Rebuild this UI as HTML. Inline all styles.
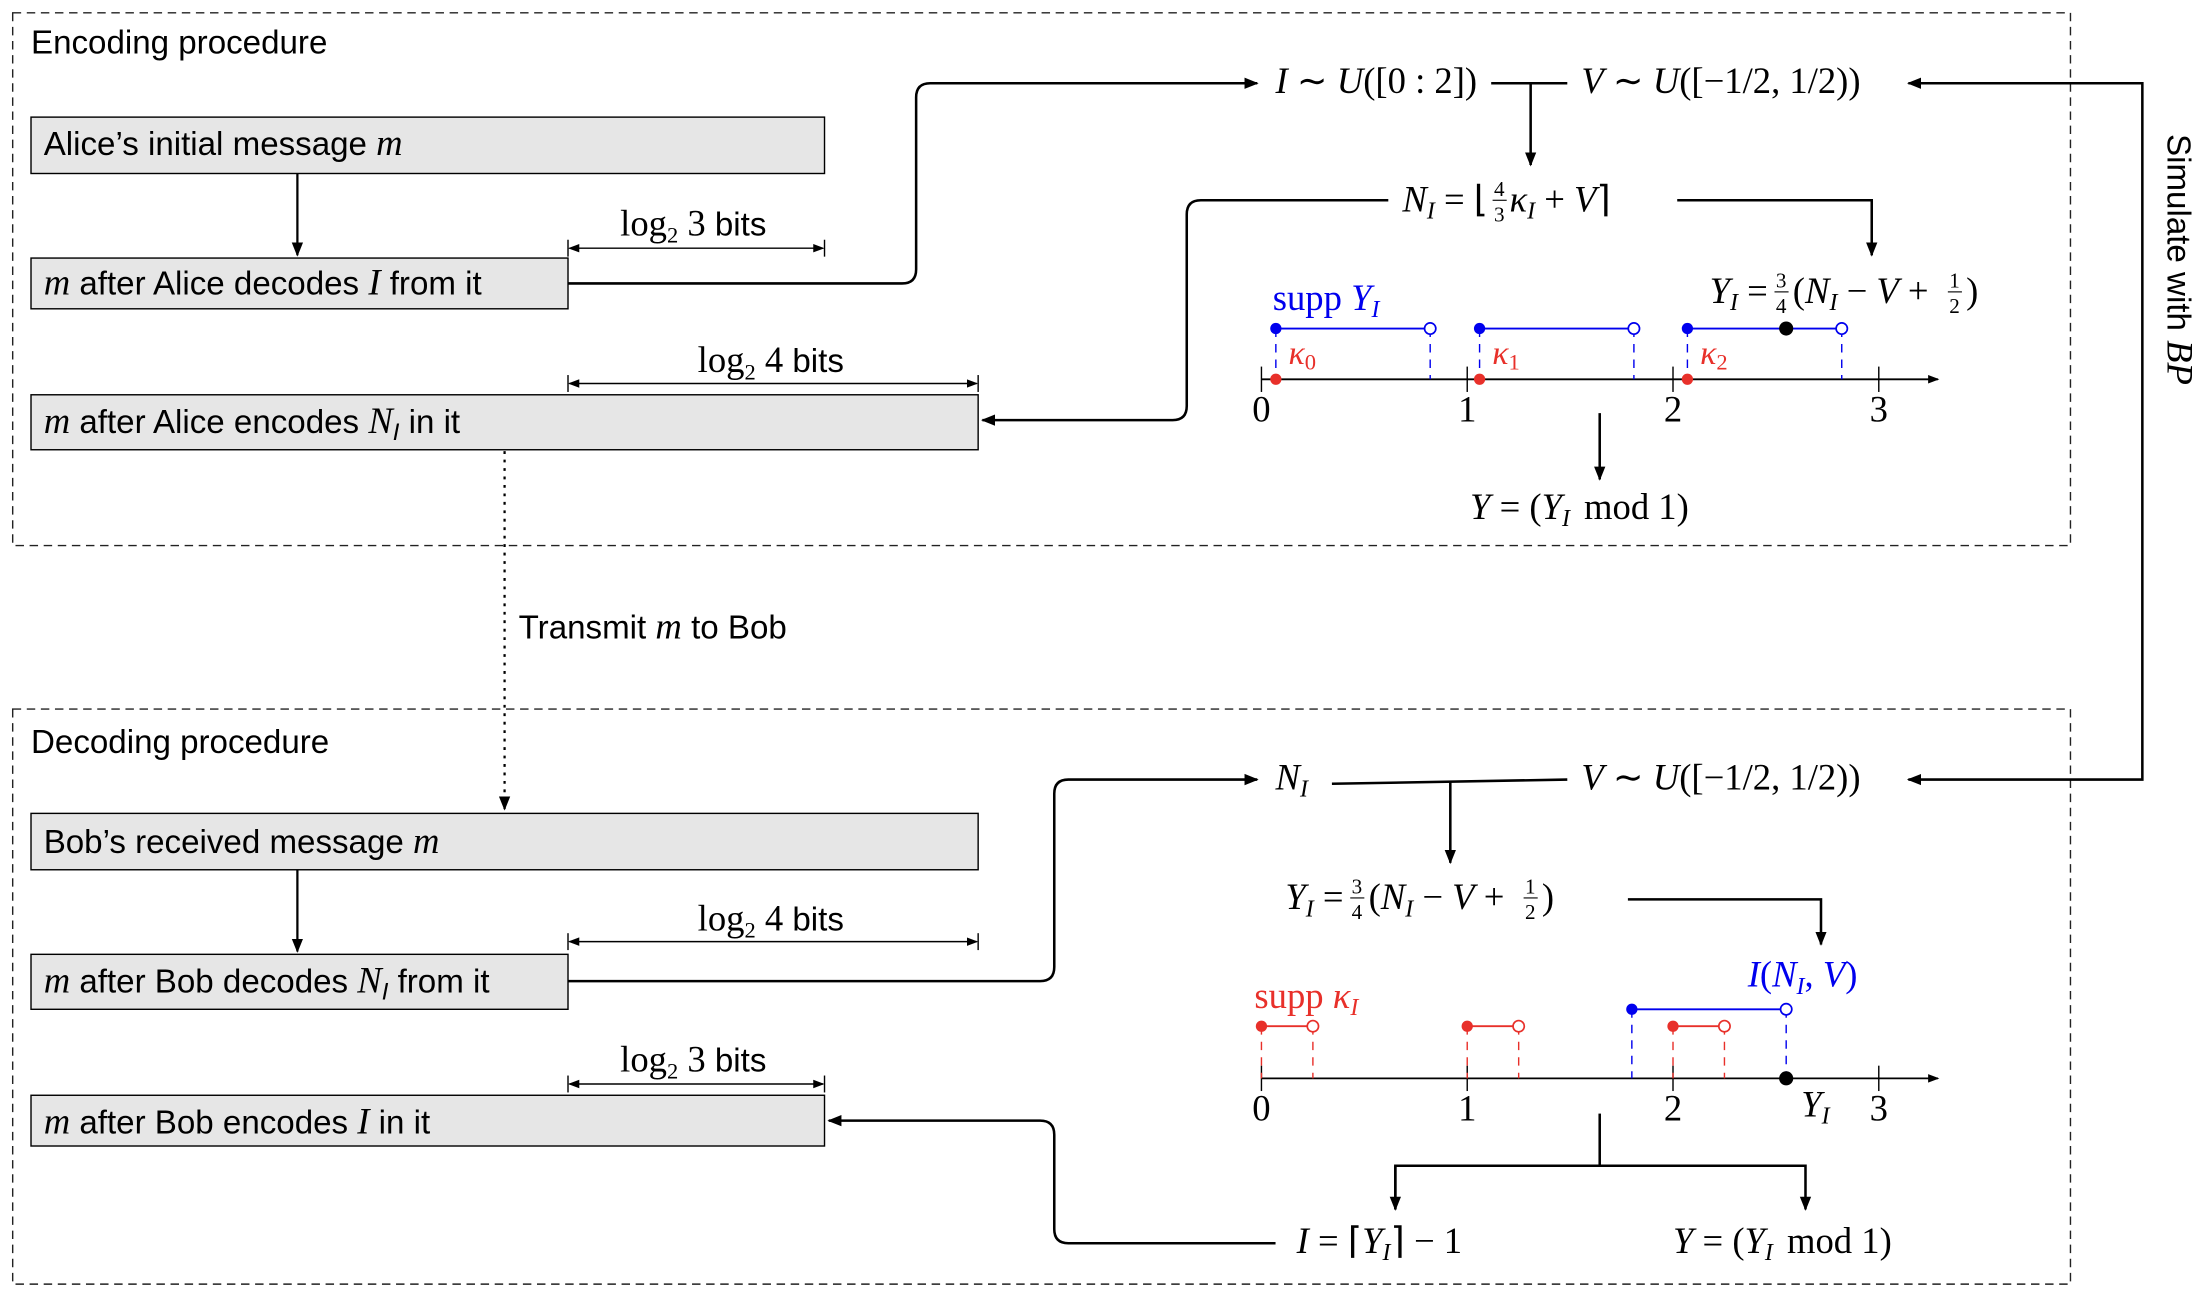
<!DOCTYPE html>
<html><head><meta charset="utf-8"><style>
html,body{margin:0;padding:0;background:#fff}
svg{display:block}
.s{font-family:"Liberation Sans",sans-serif;font-size:23.5px}
.m{font-family:"Liberation Serif",serif;font-size:26px}
.i{font-style:italic}
.sub{font-size:17px;font-style:italic}
.f{font-family:"Liberation Serif",serif;font-size:15px}
</style></head><body>
<svg id="svg" width="2210" height="1304" viewBox="0 0 1568 925" xmlns="http://www.w3.org/2000/svg">
<defs>
<marker id="ah" markerWidth="10" markerHeight="10" refX="9" refY="5" orient="auto" markerUnits="userSpaceOnUse"><path d="M0,1 L10,5 L0,9 Z" fill="#000"/></marker>
<marker id="sa" markerWidth="8" markerHeight="8" refX="7" refY="4" orient="auto-start-reverse" markerUnits="userSpaceOnUse"><path d="M0,1 L8,4 L0,7 Z" fill="#000"/></marker>
</defs>
<g fill="none" stroke="#222" stroke-width="1" stroke-dasharray="6,4">
<rect x="9" y="9" width="1460" height="378"/>
<rect x="9" y="503" width="1460" height="408"/>
</g>
<text class="s" x="22" y="38">Encoding procedure</text>
<text class="s" x="22" y="534">Decoding procedure</text>

<g fill="#e6e6e6" stroke="#000" stroke-width="1">
<rect x="22" y="83" width="563" height="40"/>
<rect x="22" y="183" width="381" height="36"/>
<rect x="22" y="280" width="672" height="39"/>
<rect x="22" y="577" width="672" height="40"/>
<rect x="22" y="677" width="381" height="39"/>
<rect x="22" y="777" width="563" height="36"/>
</g>
<text class="s" x="31" y="110">Alice’s initial message <tspan class="m i">m</tspan></text>
<text class="s" x="31" y="209"><tspan class="m i">m</tspan> after Alice decodes <tspan class="m i">I</tspan> from it</text>
<text class="s" x="31" y="307"><tspan class="m i">m</tspan> after Alice encodes <tspan class="m i">N</tspan><tspan class="sub" dy="5">I</tspan><tspan dy="-5">  in it</tspan></text>
<text class="s" x="31" y="605">Bob’s received message <tspan class="m i">m</tspan></text>
<text class="s" x="31" y="704"><tspan class="m i">m</tspan> after Bob decodes <tspan class="m i">N</tspan><tspan class="sub" dy="5">I</tspan><tspan dy="-5">  from it</tspan></text>
<text class="s" x="31" y="804"><tspan class="m i">m</tspan> after Bob encodes <tspan class="m i">I</tspan> in it</text>

<g stroke="#000" stroke-width="1.6" fill="none">
<line x1="211" y1="123" x2="211" y2="181" marker-end="url(#ah)"/>
<line x1="211" y1="617" x2="211" y2="675" marker-end="url(#ah)"/>
</g>
<g stroke="#000" stroke-width="1" fill="none">
<line x1="404" y1="176" x2="584" y2="176" marker-start="url(#sa)" marker-end="url(#sa)"/>
<line x1="403" y1="170" x2="403" y2="182"/><line x1="585" y1="170" x2="585" y2="182"/>
<line x1="404" y1="272" x2="693" y2="272" marker-start="url(#sa)" marker-end="url(#sa)"/>
<line x1="403" y1="266" x2="403" y2="278"/><line x1="694" y1="266" x2="694" y2="278"/>
<line x1="404" y1="668" x2="693" y2="668" marker-start="url(#sa)" marker-end="url(#sa)"/>
<line x1="403" y1="662" x2="403" y2="674"/><line x1="694" y1="662" x2="694" y2="674"/>
<line x1="404" y1="769" x2="584" y2="769" marker-start="url(#sa)" marker-end="url(#sa)"/>
<line x1="403" y1="763" x2="403" y2="775"/><line x1="585" y1="763" x2="585" y2="775"/>
</g>
<text class="m" x="440" y="167">log<tspan style="font-size:16px" dy="5">2</tspan><tspan dy="-5"> 3 </tspan><tspan class="s">bits</tspan></text>
<text class="m" x="495" y="264">log<tspan style="font-size:16px" dy="5">2</tspan><tspan dy="-5"> 4 </tspan><tspan class="s">bits</tspan></text>
<text class="m" x="495" y="660">log<tspan style="font-size:16px" dy="5">2</tspan><tspan dy="-5"> 4 </tspan><tspan class="s">bits</tspan></text>
<text class="m" x="440" y="760">log<tspan style="font-size:16px" dy="5">2</tspan><tspan dy="-5"> 3 </tspan><tspan class="s">bits</tspan></text>

<line x1="358" y1="320" x2="358" y2="574" stroke="#000" stroke-width="1.6" stroke-dasharray="2,4" marker-end="url(#ah)"/>
<text class="s" x="368" y="453">Transmit <tspan class="m i">m</tspan> to Bob</text>

<g stroke="#000" stroke-width="1.8" fill="none">
<path d="M403,201 H640 Q650,201 650,191 V69 Q650,59 660,59 H892" marker-end="url(#ah)"/>
<line x1="1058" y1="59" x2="1112" y2="59"/>
<line x1="1086" y1="59" x2="1086" y2="117" marker-end="url(#ah)"/>
<path d="M1470,59 H1520 V553 H1354" marker-end="url(#ah)"/>
<path d="M1520,59 H1354" marker-end="url(#ah)"/>
<path d="M985,142 H852 Q842,142 842,152 V288 Q842,298 832,298 H697" marker-end="url(#ah)"/>
<path d="M1190,142 H1328 V181" marker-end="url(#ah)"/>
<line x1="1135" y1="293" x2="1135" y2="340" marker-end="url(#ah)"/>
</g>
<text class="s" transform="translate(1538,95) rotate(90)">Simulate with <tspan class="m i">BP</tspan></text>
<text class="m" x="905" y="66"><tspan class="i">I</tspan> ∼ <tspan class="i">U</tspan>([0 : 2])</text>
<text class="m" x="1122" y="66"><tspan class="i">V</tspan> ∼ <tspan class="i">U</tspan>([−1/2, 1/2))</text>

<text class="m" x="995" y="150"><tspan class="i">N</tspan><tspan class="sub" dy="5">I</tspan><tspan dy="-5"> = ⌊</tspan></text>
<text class="f" x="1060" y="139">4</text><text class="f" x="1060" y="157">3</text>
<line x1="1059" y1="142" x2="1069" y2="142" stroke="#000" stroke-width="0.8"/>
<text class="m" x="1071" y="150"><tspan class="i">κ</tspan><tspan class="sub" dy="5">I</tspan><tspan dy="-5"> + </tspan><tspan class="i">V</tspan>⌉</text>

<text class="m" x="1213" y="215"><tspan class="i">Y</tspan><tspan class="sub" dy="5">I</tspan><tspan dy="-5"> = </tspan></text>
<text class="f" x="1260" y="204">3</text><text class="f" x="1260" y="222">4</text>
<line x1="1259" y1="207" x2="1269" y2="207" stroke="#000" stroke-width="0.8"/>
<text class="m" x="1272" y="215">(<tspan class="i">N</tspan><tspan class="sub" dy="5">I</tspan><tspan dy="-5"> − </tspan><tspan class="i">V</tspan> + </text>
<text class="f" x="1383" y="204">1</text><text class="f" x="1383" y="222">2</text>
<line x1="1382" y1="207" x2="1392" y2="207" stroke="#000" stroke-width="0.8"/>
<text class="m" x="1395" y="215">)</text>

<text class="m" x="903" y="220" fill="#0000ee">supp <tspan class="i">Y</tspan><tspan class="sub" dy="5">I</tspan></text>
<text class="m" x="1043" y="368"><tspan class="i">Y</tspan> = (<tspan class="i">Y</tspan><tspan class="sub" dy="5">I</tspan><tspan dy="-5" dx="10">mod 1)</tspan></text>
<g id="enc-line"></g>

<g stroke="#000" stroke-width="1.8" fill="none">
<path d="M403,696 H738 Q748,696 748,686 V563 Q748,553 758,553 H892" marker-end="url(#ah)"/>
<line x1="945" y1="556" x2="1112" y2="553"/>
<line x1="1029" y1="555" x2="1029" y2="612" marker-end="url(#ah)"/>
<path d="M1155,638 H1292 V670" marker-end="url(#ah)"/>
<line x1="1135" y1="790" x2="1135" y2="827"/>
<path d="M990,858 V827 H1281 V858" marker-end="url(#ah)"/>
<line x1="990" y1="827" x2="990" y2="858" marker-end="url(#ah)"/>
<path d="M905,882 H758 Q748,882 748,872 V805 Q748,795 738,795 H588" marker-end="url(#ah)"/>
</g>
<text class="m" x="905" y="560"><tspan class="i">N</tspan><tspan class="sub" dy="5">I</tspan></text>
<text class="m" x="1122" y="560"><tspan class="i">V</tspan> ∼ <tspan class="i">U</tspan>([−1/2, 1/2))</text>

<text class="m" x="912" y="645"><tspan class="i">Y</tspan><tspan class="sub" dy="5">I</tspan><tspan dy="-5"> = </tspan></text>
<text class="f" x="959" y="634">3</text><text class="f" x="959" y="652">4</text>
<line x1="958" y1="637" x2="968" y2="637" stroke="#000" stroke-width="0.8"/>
<text class="m" x="971" y="645">(<tspan class="i">N</tspan><tspan class="sub" dy="5">I</tspan><tspan dy="-5"> − </tspan><tspan class="i">V</tspan> + </text>
<text class="f" x="1082" y="634">1</text><text class="f" x="1082" y="652">2</text>
<line x1="1081" y1="637" x2="1091" y2="637" stroke="#000" stroke-width="0.8"/>
<text class="m" x="1094" y="645">)</text>

<text class="m" x="1240" y="700" fill="#0000ee"><tspan class="i">I</tspan>(<tspan class="i">N</tspan><tspan class="sub" dy="5">I</tspan><tspan dy="-5">, </tspan><tspan class="i">V</tspan>)</text>
<text class="m" x="890" y="715" fill="#e8302a">supp <tspan class="i">κ</tspan><tspan class="sub" dy="5">I</tspan></text>
<text class="m" x="920" y="889"><tspan class="i">I</tspan> = ⌈<tspan class="i">Y</tspan><tspan class="sub" dy="5">I</tspan><tspan dy="-5">⌉ − 1</tspan></text>
<text class="m" x="1187" y="889"><tspan class="i">Y</tspan> = (<tspan class="i">Y</tspan><tspan class="sub" dy="5">I</tspan><tspan dy="-5" dx="10">mod 1)</tspan></text>
<text class="m" x="1278" y="792"><tspan class="i">Y</tspan><tspan class="sub" dy="5">I</tspan></text>
<g id="dec-line"></g>
</svg>
<script>
const ticks = [0, 1, 2, 3];
const kappas = [0.07, 1.06, 2.07];
const suppLen = 0.75;
const yI = 2.55;
const kappaSuppLen = 0.25;
const decInterval = [1.8, 2.55];

const NS = 'http://www.w3.org/2000/svg';
const X0 = 895, UNIT = 146;
function sx(v){ return X0 + v * UNIT; }
function mk(parent, tag, attrs, text){
  const e = document.createElementNS(NS, tag);
  for (const k in attrs) e.setAttribute(k, attrs[k]);
  if (text !== undefined) e.textContent = text;
  parent.appendChild(e);
  return e;
}
function axis(g, y, name){
  const a = mk(g, 'line', {x1: X0, y1: y, x2: 1375, y2: y, stroke: '#000', 'stroke-width': 1.3, 'marker-end': 'url(#sa)'});
  
  
  ticks.forEach(t => {
    mk(g, 'line', {x1: sx(t), y1: y - 9, x2: sx(t), y2: y + 9, stroke: '#000', 'stroke-width': 1});
    const l = mk(g, 'text', {x: sx(t), y: y + 30, 'text-anchor': 'middle', class: 'm'}, String(t));
    
    
  });
}
const blue = '#0000ee', red = '#e8302a';
const eg = document.getElementById('enc-line');
const eY = 269, bY = 233;
axis(eg, eY, 'encoding');
kappas.forEach((k, i) => {
  const a = sx(k), b = sx(k + suppLen);
  mk(eg, 'line', {x1: a, y1: bY, x2: a, y2: eY, stroke: blue, 'stroke-dasharray': '6,5', 'stroke-width': 1});
  mk(eg, 'line', {x1: b, y1: bY, x2: b, y2: eY, stroke: blue, 'stroke-dasharray': '6,5', 'stroke-width': 1});
  const seg = mk(eg, 'line', {x1: a, y1: bY, x2: b, y2: bY, stroke: blue, 'stroke-width': 1.3});
  
  
  mk(eg, 'circle', {cx: a, cy: bY, r: 4, fill: blue});
  mk(eg, 'circle', {cx: b, cy: bY, r: 4, fill: '#fff', stroke: blue, 'stroke-width': 1.2});
  const d = mk(eg, 'circle', {cx: a, cy: eY, r: 4, fill: red});
  
  
  const t = mk(eg, 'text', {x: a + 9, y: 258, fill: red, style: 'font-family:"Liberation Serif",serif;font-size:24px;font-style:italic'}, 'κ');
  mk(t, 'tspan', {style: 'font-size:16px;font-style:normal', dy: 4}, String(i));
});
const yd = mk(eg, 'circle', {cx: sx(yI), cy: bY, r: 5, fill: '#000'});



const dg = document.getElementById('dec-line');
const dY = 765, rY = 728, biY = 716;
axis(dg, dY, 'decoding');
ticks.slice(0, 3).forEach((t, i) => {
  const a = sx(t), b = sx(t + kappaSuppLen);
  mk(dg, 'line', {x1: a, y1: rY, x2: a, y2: dY, stroke: red, 'stroke-dasharray': '6,5', 'stroke-width': 1});
  mk(dg, 'line', {x1: b, y1: rY, x2: b, y2: dY, stroke: red, 'stroke-dasharray': '6,5', 'stroke-width': 1});
  const s = mk(dg, 'line', {x1: a, y1: rY, x2: b, y2: rY, stroke: red, 'stroke-width': 1.3});
  
  
  mk(dg, 'circle', {cx: a, cy: rY, r: 4, fill: red});
  mk(dg, 'circle', {cx: b, cy: rY, r: 4, fill: '#fff', stroke: red, 'stroke-width': 1.2});
});
{
  const a = sx(decInterval[0]), b = sx(decInterval[1]);
  mk(dg, 'line', {x1: a, y1: biY, x2: a, y2: dY, stroke: blue, 'stroke-dasharray': '6,5', 'stroke-width': 1});
  mk(dg, 'line', {x1: b, y1: biY, x2: b, y2: dY, stroke: blue, 'stroke-dasharray': '6,5', 'stroke-width': 1});
  const s = mk(dg, 'line', {x1: a, y1: biY, x2: b, y2: biY, stroke: blue, 'stroke-width': 1.3});
  
  
  mk(dg, 'circle', {cx: a, cy: biY, r: 4, fill: blue});
  mk(dg, 'circle', {cx: b, cy: biY, r: 4, fill: '#fff', stroke: blue, 'stroke-width': 1.2});
}
const yd2 = mk(dg, 'circle', {cx: sx(yI), cy: dY, r: 5, fill: '#000'});


</script>
</body></html>
